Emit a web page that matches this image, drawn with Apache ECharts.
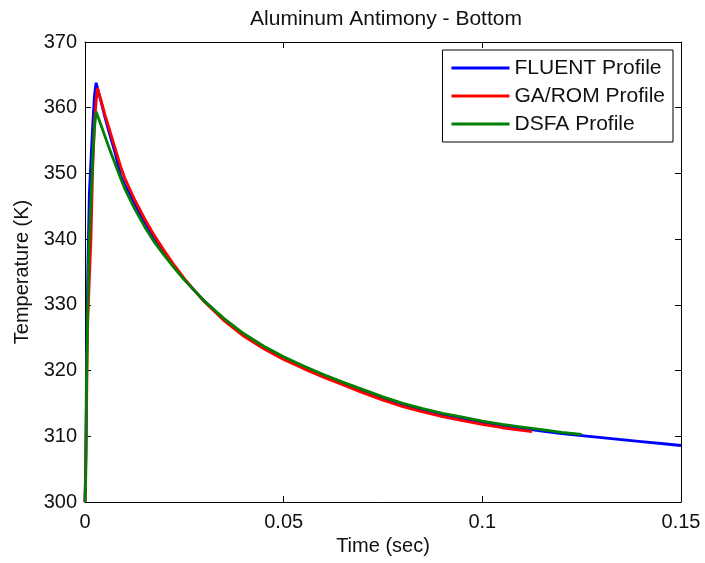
<!DOCTYPE html>
<html>
<head>
<meta charset="utf-8">
<script src="https://cdn.jsdelivr.net/npm/echarts@6/dist/echarts.min.js"></script>
<style>
html,body{margin:0;padding:0;background:#fff;}
#chart{width:705px;height:563px;}
</style>
</head>
<body>
<div id="chart"></div>
<script>
const titleText = 'Aluminum Antimony - Bottom';
const xAxisName = 'Time (sec)';
const yAxisName = 'Temperature (K)';
const xTicks = [0, 0.05, 0.1, 0.15];
const yTicks = [300, 310, 320, 330, 340, 350, 360, 370];
const seriesNames = ['FLUENT Profile', 'GA/ROM Profile', 'DSFA Profile'];

const fluentTime = [0, 0.0002, 0.0004, 0.0007, 0.0011, 0.0015, 0.002, 0.0024, 0.0028, 0.004, 0.005, 0.006, 0.0075, 0.009, 0.010, 0.0125, 0.015, 0.0175, 0.020, 0.0225, 0.025, 0.0275, 0.030, 0.035, 0.040, 0.045, 0.050, 0.055, 0.060, 0.065, 0.070, 0.075, 0.080, 0.085, 0.090, 0.095, 0.100, 0.105, 0.110, 0.115, 0.120, 0.125, 0.130, 0.135, 0.140, 0.145, 0.150];
const fluentTemp = [300, 307, 322, 335, 347, 352, 358, 362, 363.8, 361.0, 358.6, 356.4, 353.3, 349.6, 348.3, 345.3, 342.6, 340.0, 337.8, 335.8, 333.9, 332.2, 330.6, 327.8, 325.5, 323.6, 322.0, 320.6, 319.3, 318.1, 316.9, 315.8, 314.8, 314.0, 313.3, 312.7, 312.1, 311.6, 311.2, 310.8, 310.4, 310.1, 309.8, 309.5, 309.2, 308.9, 308.6];

const gaRomTime = [0, 0.0002, 0.0004, 0.0006, 0.0011, 0.0015, 0.0019, 0.0024, 0.0031, 0.004, 0.005, 0.006, 0.0075, 0.009, 0.010, 0.0125, 0.015, 0.0175, 0.020, 0.0225, 0.025, 0.0275, 0.030, 0.035, 0.040, 0.045, 0.050, 0.055, 0.060, 0.065, 0.070, 0.075, 0.080, 0.085, 0.090, 0.095, 0.100, 0.105, 0.110, 0.1125];
const gaRomTemp = [300, 306, 314, 326, 334, 340, 350, 358, 363.0, 361.2, 359.0, 357.0, 354.0, 351.0, 349.3, 346.0, 343.1, 340.5, 338.2, 336.0, 334.0, 332.2, 330.5, 327.6, 325.2, 323.3, 321.7, 320.3, 319.0, 317.8, 316.6, 315.5, 314.5, 313.7, 313.0, 312.4, 311.8, 311.3, 310.9, 310.7];

const dsfaTime = [0, 0.0002, 0.0004, 0.0007, 0.0010, 0.0015, 0.0020, 0.0024, 0.0028, 0.004, 0.005, 0.006, 0.0075, 0.009, 0.010, 0.0125, 0.015, 0.0175, 0.020, 0.0225, 0.025, 0.0275, 0.030, 0.035, 0.040, 0.045, 0.050, 0.055, 0.060, 0.065, 0.070, 0.075, 0.080, 0.085, 0.090, 0.095, 0.100, 0.105, 0.110, 0.115, 0.120, 0.125];
const dsfaTemp = [300, 304, 318, 330, 339, 346, 353, 357, 359.4, 357.4, 355.7, 354.0, 351.6, 349.2, 347.7, 344.6, 341.9, 339.5, 337.5, 335.6, 333.8, 332.2, 330.6, 327.9, 325.6, 323.7, 322.1, 320.7, 319.4, 318.2, 317.1, 316.0, 315.0, 314.2, 313.5, 312.9, 312.3, 311.8, 311.4, 311.0, 310.6, 310.3];

const colors = ['#0000ff', '#ff0000', '#008000'];
const FONT = '"Liberation Sans", Arial, Helvetica, sans-serif';

function pairs(t, v) { return t.map((x, i) => [x, v[i]]); }

const chart = echarts.init(document.getElementById('chart'), null, {renderer: 'canvas'});

const axisCommon = {
  axisLine: {show: true, onZero: false, lineStyle: {color: '#000', width: 1}},
  axisTick: {show: true, inside: true, length: 6, lineStyle: {color: '#000', width: 1}},
  splitLine: {show: false}
};

chart.setOption({
  backgroundColor: '#fff',
  animation: false,
  title: {
    text: titleText,
    left: 381,
    textAlign: 'center',
    top: 4,
    textStyle: {fontFamily: FONT, fontSize: 21, fontWeight: 'normal', color: '#111'}
  },
  legend: {
    orient: 'vertical',
    right: 32,
    top: 50,
    padding: [7, 8, 7, 9],
    itemGap: 6,
    itemWidth: 58,
    itemHeight: 3,
    itemTextGap: 3,
    icon: 'rect',
    backgroundColor: '#fff',
    borderColor: '#000',
    borderWidth: 1,
    borderRadius: 0,
    data: seriesNames,
    textStyle: {fontFamily: FONT, fontSize: 21, color: '#111', lineHeight: 22}
  },
  grid: {left: 85, right: 24, top: 42, bottom: 61, containLabel: false},
  xAxis: [
    Object.assign({}, axisCommon, {
      type: 'value', position: 'bottom', min: 0, max: 0.15, interval: 0.05,
      name: xAxisName, nameLocation: 'middle', nameGap: 33,
      nameTextStyle: {fontFamily: FONT, fontSize: 20, color: '#111'},
      axisLabel: {margin: 10, fontFamily: FONT, fontSize: 20, color: '#111',
        formatter: v => { const m = xTicks.find(t => Math.abs(t - v) < 1e-9); return m === undefined ? '' : String(m); }}
    }),
    Object.assign({}, axisCommon, {
      type: 'value', position: 'top', min: 0, max: 0.15, interval: 0.05,
      axisLabel: {show: false}
    })
  ],
  yAxis: [
    Object.assign({}, axisCommon, {
      type: 'value', position: 'left', min: 300, max: 370, interval: 10,
      name: yAxisName, nameLocation: 'middle', nameGap: 52,
      nameTextStyle: {fontFamily: FONT, fontSize: 20, color: '#111'},
      axisLabel: {margin: 8, fontFamily: FONT, fontSize: 20, color: '#111',
        formatter: v => { const m = yTicks.find(t => Math.abs(t - v) < 1e-9); return m === undefined ? '' : String(m); }}
    }),
    Object.assign({}, axisCommon, {
      type: 'value', position: 'right', min: 300, max: 370, interval: 10,
      axisLabel: {show: false}
    })
  ],
  series: [
    {name: seriesNames[0], type: 'line', data: pairs(fluentTime, fluentTemp), showSymbol: false, symbol: 'none',
     lineStyle: {color: colors[0], width: 2.8}, itemStyle: {color: colors[0]}, z: 2},
    {name: seriesNames[1], type: 'line', data: pairs(gaRomTime, gaRomTemp), showSymbol: false, symbol: 'none',
     lineStyle: {color: colors[1], width: 2.8}, itemStyle: {color: colors[1]}, z: 3},
    {name: seriesNames[2], type: 'line', data: pairs(dsfaTime, dsfaTemp), showSymbol: false, symbol: 'none',
     lineStyle: {color: colors[2], width: 2.8}, itemStyle: {color: colors[2]}, z: 4}
  ]
});
</script>
</body>
</html>
